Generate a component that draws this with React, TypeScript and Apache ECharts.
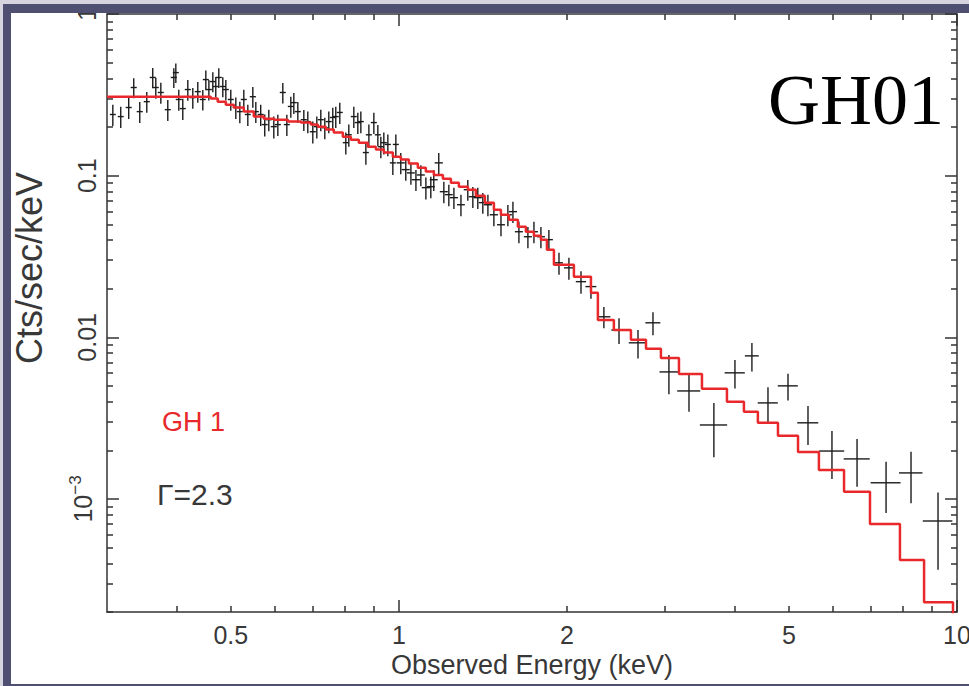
import React, { useEffect, useRef } from 'react';
import * as echarts from 'echarts';

// ---- observed spectrum (keV, cts/s/keV) ----
const energy = [
  0.3073, 0.3175, 0.3281, 0.335, 0.3434, 0.3535, 0.3623, 0.3669, 0.3746, 0.3855, 0.3952, 0.3985, 0.4034, 0.4101, 0.4187,
  0.4274, 0.4363, 0.4454, 0.451, 0.4567, 0.4642, 0.4699, 0.4758, 0.4837, 0.4898, 0.4999, 0.5104, 0.5189, 0.5275, 0.5363,
  0.5475, 0.5543, 0.5656, 0.5751, 0.5848, 0.597, 0.607, 0.6196, 0.63, 0.6404, 0.6484, 0.6592, 0.6757, 0.6869, 0.7012,
  0.7129, 0.7247, 0.7368, 0.749, 0.7614, 0.7709, 0.7838, 0.8035, 0.8135, 0.8305, 0.8443, 0.8549, 0.8728, 0.8837, 0.902,
  0.917, 0.9284, 0.9399, 0.9556, 0.9755, 0.9877,
  1.008, 1.029, 1.051, 1.073, 1.095, 1.118, 1.141, 1.155, 1.179, 1.204, 1.229, 1.255, 1.292, 1.329, 1.357, 1.385, 1.414,
  1.444, 1.48, 1.524, 1.568, 1.601, 1.641, 1.703, 1.746, 1.797, 1.857, 1.936, 2.017, 2.12, 2.209,
  2.33, 2.48, 2.682, 2.853, 3.047, 3.31, 3.668, 4.001, 4.291, 4.585, 4.98, 5.408, 5.97, 6.621, 7.463, 8.272, 9.247,
];
const rate = [
  0.239, 0.232, 0.264, 0.351, 0.249, 0.287, 0.405, 0.351, 0.327, 0.256, 0.405, 0.434, 0.296, 0.26, 0.341,
  0.304, 0.331, 0.296, 0.393, 0.341, 0.382, 0.356, 0.405, 0.356, 0.341, 0.296, 0.264, 0.249, 0.296, 0.239,
  0.308, 0.249, 0.239, 0.207, 0.222, 0.201, 0.207, 0.327, 0.207, 0.268, 0.283, 0.249, 0.222, 0.216, 0.187,
  0.201, 0.222, 0.198, 0.216, 0.229, 0.232, 0.246, 0.16, 0.179, 0.232, 0.213, 0.216, 0.139, 0.179, 0.213,
  0.179, 0.151, 0.16, 0.156, 0.12, 0.156,
  0.12, 0.109, 0.104, 0.0944, 0.101, 0.0843, 0.0855, 0.0944, 0.12, 0.0796, 0.0763, 0.0731, 0.0661, 0.0819, 0.0741,
  0.0731, 0.0681, 0.0661, 0.0573, 0.0497, 0.0573, 0.0599, 0.045, 0.0419, 0.045, 0.0419, 0.0402, 0.0289, 0.0269,
  0.0221, 0.0206,
  0.0134, 0.0111, 0.00925, 0.0123, 0.00611, 0.00466, 0.00287, 0.00603, 0.00768, 0.00393, 0.00501, 0.00296,
  0.00198, 0.00177, 0.00126, 0.00145, 0.000731,
];
const energyHalfWidth = [
  0.0038, 0.0039, 0.0041, 0.0042, 0.0043, 0.0044, 0.0045, 0.0045, 0.0046, 0.0048, 0.0049, 0.0049, 0.005, 0.0051, 0.0052,
  0.0053, 0.0054, 0.0055, 0.0056, 0.0057, 0.0058, 0.0058, 0.0059, 0.006, 0.0061, 0.0062, 0.0063, 0.0064, 0.0065, 0.0066,
  0.0068, 0.0069, 0.007, 0.0071, 0.0073, 0.0074, 0.0075, 0.0077, 0.0078, 0.0079, 0.008, 0.0082, 0.0084, 0.0085, 0.0087,
  0.0088, 0.009, 0.0091, 0.0093, 0.0094, 0.0096, 0.0097, 0.01, 0.0101, 0.0103, 0.0105, 0.0106, 0.0108, 0.011, 0.0112,
  0.0114, 0.0115, 0.0117, 0.0119, 0.0121, 0.0122,
  0.017, 0.017, 0.017, 0.018, 0.018, 0.019, 0.019, 0.019, 0.02, 0.02, 0.02, 0.021, 0.021, 0.022, 0.023, 0.023, 0.023,
  0.024, 0.025, 0.025, 0.026, 0.027, 0.027, 0.028, 0.029, 0.03, 0.031, 0.032, 0.04, 0.045, 0.05,
  0.063, 0.077, 0.1, 0.088, 0.116, 0.157, 0.206, 0.166, 0.123, 0.19, 0.206, 0.234, 0.309, 0.355, 0.46, 0.4, 0.564,
];
const rateError = [
  0.036, 0.035, 0.04, 0.05, 0.037, 0.042, 0.058, 0.052, 0.048, 0.038, 0.057, 0.06, 0.044, 0.039, 0.05,
  0.045, 0.048, 0.043, 0.055, 0.049, 0.054, 0.051, 0.056, 0.05, 0.049, 0.044, 0.04, 0.038, 0.044, 0.036,
  0.045, 0.037, 0.036, 0.032, 0.034, 0.031, 0.031, 0.047, 0.031, 0.04, 0.042, 0.037, 0.033, 0.033, 0.029,
  0.031, 0.034, 0.03, 0.033, 0.034, 0.035, 0.037, 0.025, 0.028, 0.035, 0.032, 0.033, 0.022, 0.028, 0.032,
  0.027, 0.023, 0.025, 0.024, 0.019, 0.024,
  0.018, 0.016, 0.016, 0.014, 0.015, 0.013, 0.013, 0.014, 0.018, 0.012, 0.0115, 0.011, 0.01, 0.012, 0.011,
  0.011, 0.01, 0.01, 0.0086, 0.0075, 0.0086, 0.009, 0.0068, 0.0063, 0.0068, 0.0063, 0.006, 0.0045, 0.0042,
  0.0035, 0.0033,
  0.002, 0.002, 0.00185, 0.002, 0.00167, 0.0012, 0.00106, 0.0012, 0.00154, 0.00098, 0.00095, 0.0008,
  0.00065, 0.00058, 0.00044, 0.00051, 0.000366,
];

// ---- folded power-law model (bin start energies, step histogram) ----
const modelEnergy = [
  0.3, 0.3175, 0.3448, 0.3746, 0.4068, 0.4416, 0.4603, 0.4737, 0.4898, 0.5062, 0.5275, 0.5497, 0.5729, 0.597, 0.6326,
  0.6674, 0.6955, 0.7159, 0.7399, 0.7646, 0.7937, 0.8203, 0.8478, 0.8799, 0.9095, 0.9399, 0.9755, 1.0083, 1.0421, 1.0815,
  1.1178, 1.1553, 1.1992, 1.2396, 1.281, 1.3294, 1.374, 1.426, 1.4801, 1.5235, 1.5744, 1.634, 1.6888, 1.7457, 1.7969,
  1.842, 1.896, 2.059, 2.209, 2.273, 2.428, 2.605, 2.772, 2.948, 3.176, 3.492, 3.871, 4.152, 4.398, 4.778, 5.19, 5.657,
  6.275, 6.984, 7.903, 8.73, 9.836,
];
const modelRate = [
  0.308, 0.308, 0.308, 0.308, 0.308, 0.308, 0.3, 0.287, 0.275, 0.264, 0.249, 0.232, 0.225, 0.222, 0.216,
  0.213, 0.207, 0.201, 0.193, 0.185, 0.174, 0.167, 0.16, 0.151, 0.145, 0.139, 0.131, 0.126, 0.119, 0.112,
  0.106, 0.101, 0.0958, 0.0905, 0.0855, 0.0819, 0.0752, 0.0681, 0.0616, 0.0573, 0.0534, 0.0483, 0.045, 0.0425, 0.0402,
  0.0348, 0.0281, 0.0237, 0.0189, 0.0128, 0.0111, 0.00965, 0.00849, 0.00746, 0.00594, 0.0048, 0.00399, 0.00346,
  0.00296, 0.00246, 0.00195, 0.00151, 0.00111, 0.0007, 0.000419, 0.00023, 0.00001,
];

// ---- axes ----
const xMajorTicks = [1, 10];
const xMinorTicks = [0.4, 0.5, 0.6, 0.7, 0.8, 0.9, 2, 3, 4, 5, 6, 7, 8, 9];
const xTickLabels = [0.5, 1, 2, 5, 10];
const yMajorTicks = [0.001, 0.01, 0.1, 1];
const yMinorTicks = [
  0.0002, 0.0003, 0.0004, 0.0005, 0.0006, 0.0007, 0.0008, 0.0009,
  0.002, 0.003, 0.004, 0.005, 0.006, 0.007, 0.008, 0.009,
  0.02, 0.03, 0.04, 0.05, 0.06, 0.07, 0.08, 0.09,
  0.2, 0.3, 0.4, 0.5, 0.6, 0.7, 0.8, 0.9,
];
const yTickLabels = [0.001, 0.01, 0.1, 1];

const FONT = "'Liberation Sans', Arial, sans-serif";
const TXT = '#383838';
const RED = '#e8282b';

export default function App() {
  const ref = useRef<HTMLDivElement>(null);

  useEffect(() => {
    document.body.style.margin = '0';
    const chart = echarts.init(ref.current!, null, { renderer: 'svg' });
    const lineStyle = { color: '#333', width: 1.5 };

    const xAx = (position: string, ticks: number[], len: number, main: boolean, labels?: number[]) => ({
      type: 'log',
      logBase: 10,
      min: 0.3,
      max: 10,
      position,
      gridIndex: 0,
      axisLine: { show: main, onZero: false, lineStyle },
      axisTick: { show: true, inside: true, length: len, customValues: ticks, lineStyle },
      axisLabel: labels
        ? {
            show: true,
            customValues: labels,
            margin: 10,
            fontFamily: FONT,
            fontSize: 25,
            color: TXT,
            formatter: (v: number) => String(+(+v).toPrecision(3)),
          }
        : { show: false },
      splitLine: { show: false },
      minorTick: { show: false },
      minorSplitLine: { show: false },
    });
    const yAx = (position: string, ticks: number[], len: number, main: boolean, labels?: number[]) => ({
      type: 'log',
      logBase: 10,
      min: 0.0002,
      max: 1,
      position,
      gridIndex: 0,
      axisLine: { show: main, onZero: false, lineStyle },
      axisTick: { show: true, inside: true, length: len, customValues: ticks, lineStyle },
      axisLabel: labels
        ? {
            show: true,
            customValues: labels,
            rotate: 90,
            margin: 8,
            fontFamily: FONT,
            fontSize: 25,
            color: TXT,
            formatter: (v: number) => (v < 0.005 ? '{a|10}{b|\u22123}' : String(+(+v).toPrecision(3))),
            rich: {
              a: { fontFamily: FONT, fontSize: 25, color: TXT, lineHeight: 32 },
              b: { fontFamily: FONT, fontSize: 17, color: TXT, lineHeight: 17, verticalAlign: 'top' },
            },
          }
        : { show: false },
      splitLine: { show: false },
      minorTick: { show: false },
      minorSplitLine: { show: false },
    });

    const bottomMain: any = xAx('bottom', xMajorTicks, 12, true, xTickLabels);
    bottomMain.name = 'Observed Energy (keV)';
    bottomMain.nameLocation = 'middle';
    bottomMain.nameGap = 38;
    bottomMain.nameTextStyle = { fontFamily: FONT, fontSize: 27, color: TXT };

    const points = energy.map((e, i) => [e, rate[i], energyHalfWidth[i], rateError[i]]);
    const model = modelEnergy.map((e, i) => [e, modelRate[i]]);

    const option: any = {
      animation: false,
      backgroundColor: '#ffffff',
      grid: { left: 107, right: 12, top: 14, bottom: 74, containLabel: false, outerBoundsMode: 'none' },
      xAxis: [
        bottomMain,
        xAx('bottom', xMinorTicks, 6, false),
        xAx('top', xMajorTicks, 12, true),
        xAx('top', xMinorTicks, 6, false),
      ],
      yAxis: [
        yAx('left', yMajorTicks, 12, true, yTickLabels),
        yAx('left', yMinorTicks, 6, false),
        yAx('right', yMajorTicks, 12, true),
        yAx('right', yMinorTicks, 6, false),
      ],
      series: [
        {
          type: 'custom',
          name: 'data',
          xAxisIndex: 0,
          yAxisIndex: 0,
          clip: true,
          data: points,
          encode: { x: 0, y: 1 },
          renderItem: (params: any, api: any) => {
            const e = api.value(0);
            const v = api.value(1);
            const hw = api.value(2);
            const s = api.value(3);
            const pl = api.coord([e - hw, v]);
            const pr = api.coord([e + hw, v]);
            const pt = api.coord([e, v + s]);
            const pb = api.coord([e, v - s]);
            const st = { stroke: '#1c1c1c', lineWidth: 1.4 };
            return {
              type: 'group',
              children: [
                { type: 'line', shape: { x1: pl[0], y1: pl[1], x2: pr[0], y2: pr[1] }, style: st },
                { type: 'line', shape: { x1: pt[0], y1: pt[1], x2: pb[0], y2: pb[1] }, style: st },
              ],
            };
          },
        },
        {
          type: 'line',
          name: 'model',
          xAxisIndex: 0,
          yAxisIndex: 0,
          step: 'end',
          showSymbol: false,
          symbol: 'none',
          clip: true,
          data: model,
          lineStyle: { color: RED, width: 2.5 },
          z: 3,
        },
      ],
      graphic: [
        {
          type: 'text',
          x: 29,
          y: 268,
          rotation: Math.PI / 2,
          style: { text: 'Cts/sec/keV', fontFamily: FONT, fontSize: 36, fill: TXT, align: 'center', verticalAlign: 'middle' },
        },
        {
          type: 'text',
          x: 162,
          y: 422,
          style: { text: 'GH 1', fontFamily: FONT, fontSize: 27, fill: RED, verticalAlign: 'middle' },
        },
        {
          type: 'text',
          x: 157,
          y: 494,
          style: { text: '\u0393=2.3', fontFamily: FONT, fontSize: 30, fill: TXT, verticalAlign: 'middle' },
        },
        {
          type: 'text',
          x: 768,
          y: 100,
          style: { text: 'GH01', fontFamily: "'Liberation Serif', serif", fontSize: 72, fill: '#000', verticalAlign: 'middle' },
        },
        // window frame
        { type: 'rect', z: 100, shape: { x: 0, y: 0, width: 969, height: 4 }, style: { fill: '#d6d5df' } },
        { type: 'rect', z: 100, shape: { x: 0, y: 0, width: 3, height: 686 }, style: { fill: '#d6d5df' } },
        { type: 'rect', z: 101, shape: { x: 3, y: 4, width: 966, height: 9 }, style: { fill: '#4f4f72' } },
        { type: 'rect', z: 101, shape: { x: 3, y: 4, width: 8, height: 682 }, style: { fill: '#4f4f72' } },
        { type: 'rect', z: 101, shape: { x: 3, y: 684, width: 966, height: 2 }, style: { fill: '#4f4f72' } },
      ],
    };

    chart.setOption(option);
    return () => chart.dispose();
  }, []);

  return <div ref={ref} style={{ width: 969, height: 686, background: '#fff' }} />;
}
